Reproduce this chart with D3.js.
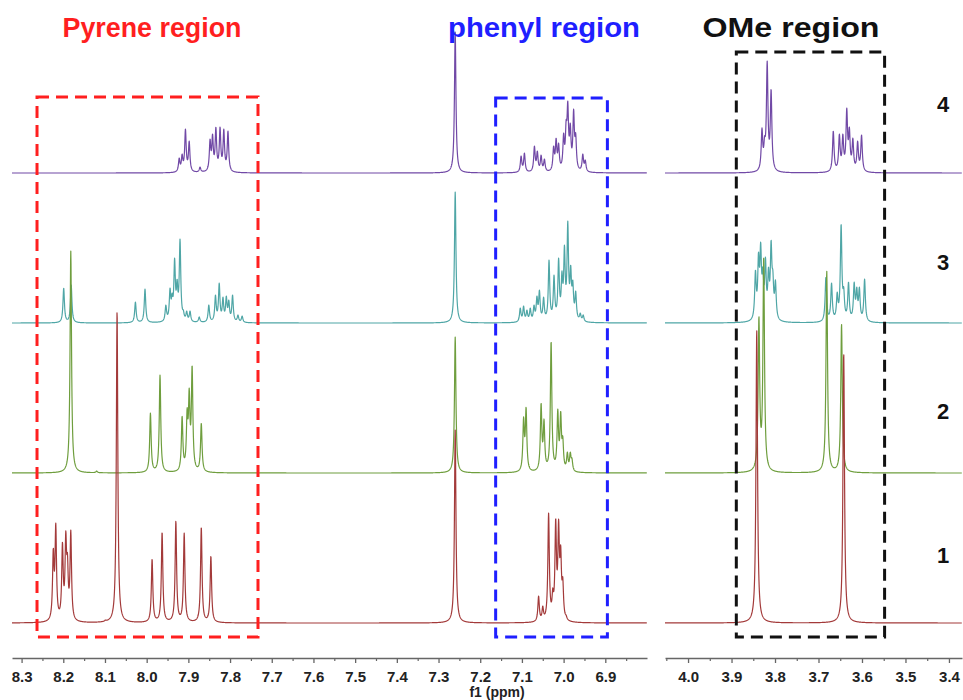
<!DOCTYPE html>
<html><head><meta charset="utf-8">
<script src="https://cdn.jsdelivr.net/npm/d3@7"></script>
<style>body{margin:0;background:#fff}</style>
</head><body>
<svg id="c" width="963" height="700"></svg>
<script>
// ---------- data ----------
const traceNames = ["1", "2", "3", "4"];
const traceColors = ["#a33a3a", "#6f9e3e", "#4fa6a6", "#7149a6"];
const traceOffsets = [37, 187, 337, 487];   // vertical stacking offsets (intensity units)
// peak lists: [ppm, height]
const peaks1 = [[8.224,75],[8.218,100],[8.202,81],[8.194,92],[8.190,70],[8.182,93],[8.099,3],[8.071,312],
  [7.987,64],[7.963,91],[7.930,102],[7.910,90],[7.869,96],[7.846,67],[7.260,193],
  [7.060,27],[7.050,17],[7.036,110],[7.026,35],[7.019,105],[7.012,104],[7.007,78],[7.002,46],[6.994,8],
  [3.842,293],[3.652,8],[3.642,270]];
const peaks2 = [[8.182,222],[8.12,2],[7.991,60],[7.968,98],[7.915,57],[7.903,65],[7.898,85],[7.891,108],[7.869,50],
  [7.260,136],[7.096,56],[7.090,66],[7.054,70],[7.047,54],[7.030,132],[7.014,64],[7.007,62],[7.002,37],
  [6.991,21],[6.984,21],[6.980,15],[3.837,157],[3.826,217],[3.681,202],[3.647,149]];
const peaks3 = [[8.199,35],[8.181,38],[8.027,21],[8.004,34],[7.954,18],[7.944,35],[7.939,30],[7.933,65],[7.927,44],
  [7.920,84],[7.912,13],[7.904,12],[7.896,12],[7.874,6],[7.851,18],[7.835,28],[7.826,40],[7.817,26],[7.809,27],
  [7.803,23],[7.794,28],[7.781,8],[7.771,7],[7.260,131],
  [7.104,15],[7.096,17],[7.088,13],[7.080,15],[7.071,18],[7.064,27],[7.058,33],[7.048,26],[7.035,63],[7.023,48],
  [7.012,65],[7.004,52],[6.998,78],[6.990,102],[6.983,58],[6.978,43],[6.971,32],[6.960,10],[6.953,8],
  [3.845,53],[3.838,71],[3.833,81],[3.828,56],[3.822,66],[3.815,56],[3.809,83],[3.805,53],[3.799,43],
  [3.683,46],[3.670,40],[3.657,31],[3.648,99],[3.642,36],[3.631,41],[3.618,41],[3.612,36],[3.606,36],[3.594,44]];
const peaks4 = [[7.922,15],[7.915,19],[7.907,44],[7.898,32],[7.872,6],[7.848,34],[7.842,39],[7.834,46],[7.824,46],
  [7.815,44],[7.805,42],[7.260,141],
  [7.102,17],[7.094,20],[7.070,27],[7.063,22],[7.054,18],[7.046,14],[7.024,27],[7.018,35],[7.012,30],[7.000,40],
  [6.994,53],[6.990,72],[6.984,50],[6.976,64],[6.971,40],[6.954,19],[6.948,13],
  [3.830,45],[3.824,37],[3.818,112],[3.809,84],[3.666,42],[3.652,39],[3.644,39],[3.635,65],[3.629,46],[3.621,35],
  [3.610,32],[3.601,38]];
const allPeaks = [peaks1, peaks2, peaks3, peaks4];
const majorTicksL = [8.3,8.2,8.1,8.0,7.9,7.8,7.7,7.6,7.5,7.4,7.3,7.2,7.1,7.0,6.9];
const minorTicksL = [8.25,8.15,8.05,7.95,7.85,7.75,7.65,7.55,7.45,7.35,7.25,7.15,7.05,6.95,6.85];
const majorTicksR = [4.0,3.9,3.8,3.7,3.6,3.5,3.4];
const minorTicksR = [4.05,3.95,3.85,3.75,3.65,3.55,3.45];
const regionTitles = ["Pyrene region", "phenyl region", "OMe region"];
const regionColors = ["#ff1f1f", "#1f1fff", "#111111"];
const regionRanges = [[8.263, 7.733], [7.163, 6.895], [3.889, 3.548]];   // ppm extents of dashed boxes
const regionTop = [563, 562, 608];     // intensity units (top of boxes)
const axisTitle = "f1 (ppm)";

// ---------- scales ----------
const svg = d3.select("#c");
const xL = d3.scaleLinear().domain([8.323, 6.80]).range([12, 647]);
const xR = d3.scaleLinear().domain([4.053, 3.37]).range([665, 962]);
const y = d3.scaleLinear().domain([0, 660]).range([660, 0]);
const gamma = 0.0021;

function lor(d){ return 1 / (1 + (d/gamma)*(d/gamma)); }

// solve amplitudes so that summed curve hits listed heights at peak positions
function amps(pk){
  const a = pk.map(p => p[1]);
  for (let it = 0; it < 100; it++){
    for (let i = 0; i < pk.length; i++){
      let s = 0;
      for (let j = 0; j < pk.length; j++) s += a[j] * lor(pk[i][0] - pk[j][0]);
      a[i] = Math.max(0, a[i] + 0.5 * (pk[i][1] - s));
    }
  }
  return a;
}

function curve(pk, a, scale, off){
  const [r0, r1] = scale.range();
  const pts = [];
  for (let px = r0; px <= r1; px += 0.2){
    const ppm = scale.invert(px);
    let s = 0;
    for (let j = 0; j < pk.length; j++){
      const d = ppm - pk[j][0];
      if (Math.abs(d) < 0.25) s += a[j] * lor(d);
    }
    pts.push([ppm, off + s]);
  }
  return pts;
}

// ---------- traces (4 first, 1 on top) ----------
const gT = svg.append("g");
for (let t = 3; t >= 0; t--){
  const pk = allPeaks[t];
  const a = amps(pk);
  [xL, xR].forEach(sc => {
    const data = curve(pk, a, sc, traceOffsets[t]);
    gT.append("path").datum(data)
      .attr("fill", "none").attr("stroke", traceColors[t]).attr("stroke-width", 1.2)
      .attr("stroke-linejoin", "round")
      .attr("d", d3.line().x(d => sc(d[0])).y(d => y(d[1])));
  });
}

// ---------- dashed region boxes ----------
const boxBottom = 23;
regionRanges.forEach((r, i) => {
  const sc = i < 2 ? xL : xR;
  const x0 = sc(r[0]), x1 = sc(r[1]);
  svg.append("rect")
    .attr("x", x0).attr("y", y(regionTop[i]))
    .attr("width", x1 - x0).attr("height", y(boxBottom) - y(regionTop[i]))
    .attr("fill", "none").attr("stroke", regionColors[i]).attr("stroke-width", 3)
    .attr("stroke-dasharray", "12,7");
});

// ---------- titles ----------
const titleX = [152, 544, 791];
const titleW = [179, 192, 177];
regionTitles.forEach((s, i) => {
  svg.append("text").attr("x", titleX[i]).attr("y", 37).attr("text-anchor", "middle")
    .attr("font-family", "Liberation Sans, Arial, sans-serif").attr("font-weight", "bold")
    .attr("font-size", 27).attr("fill", regionColors[i])
    .attr("textLength", titleW[i]).attr("lengthAdjust", "spacingAndGlyphs").text(s);
});

// ---------- trace labels ----------
const labelY = [563, 419, 270, 112];
traceNames.forEach((s, i) => {
  svg.append("text").attr("x", 943).attr("y", labelY[i]).attr("text-anchor", "middle")
    .attr("font-family", "Liberation Sans, Arial, sans-serif").attr("font-weight", "bold")
    .attr("font-size", 22).attr("fill", "#111").text(s);
});

// ---------- axes ----------
function drawAxis(sc, major, minor){
  const g = svg.append("g").attr("transform", "translate(0,658)");
  g.call(d3.axisBottom(sc).tickValues(major).tickFormat(d3.format(".1f")).tickSize(5).tickSizeOuter(0).tickPadding(8));
  g.select(".domain").attr("stroke", "#666").attr("stroke-width", 1.3);
  g.selectAll(".tick line").attr("stroke", "#666").attr("stroke-width", 1.3);
  g.selectAll(".tick text").attr("font-family", "Liberation Sans, Arial, sans-serif")
    .attr("font-weight", "bold").attr("font-size", 15).attr("fill", "#222");
  const gm = svg.append("g").attr("transform", "translate(0,658)");
  gm.call(d3.axisBottom(sc).tickValues(minor.filter(v => sc(v) >= sc.range()[0] && sc(v) <= sc.range()[1]))
    .tickFormat("").tickSize(3).tickSizeOuter(0));
  gm.select(".domain").remove();
  gm.selectAll(".tick line").attr("stroke", "#666").attr("stroke-width", 1.2);
}
drawAxis(xL, majorTicksL, minorTicksL);
drawAxis(xR, majorTicksR, minorTicksR);

svg.append("text").attr("x", 497).attr("y", 697).attr("text-anchor", "middle")
  .attr("font-family", "Liberation Sans, Arial, sans-serif").attr("font-weight", "bold")
  .attr("font-size", 14).attr("fill", "#222").text(axisTitle);
</script>
</body></html>
